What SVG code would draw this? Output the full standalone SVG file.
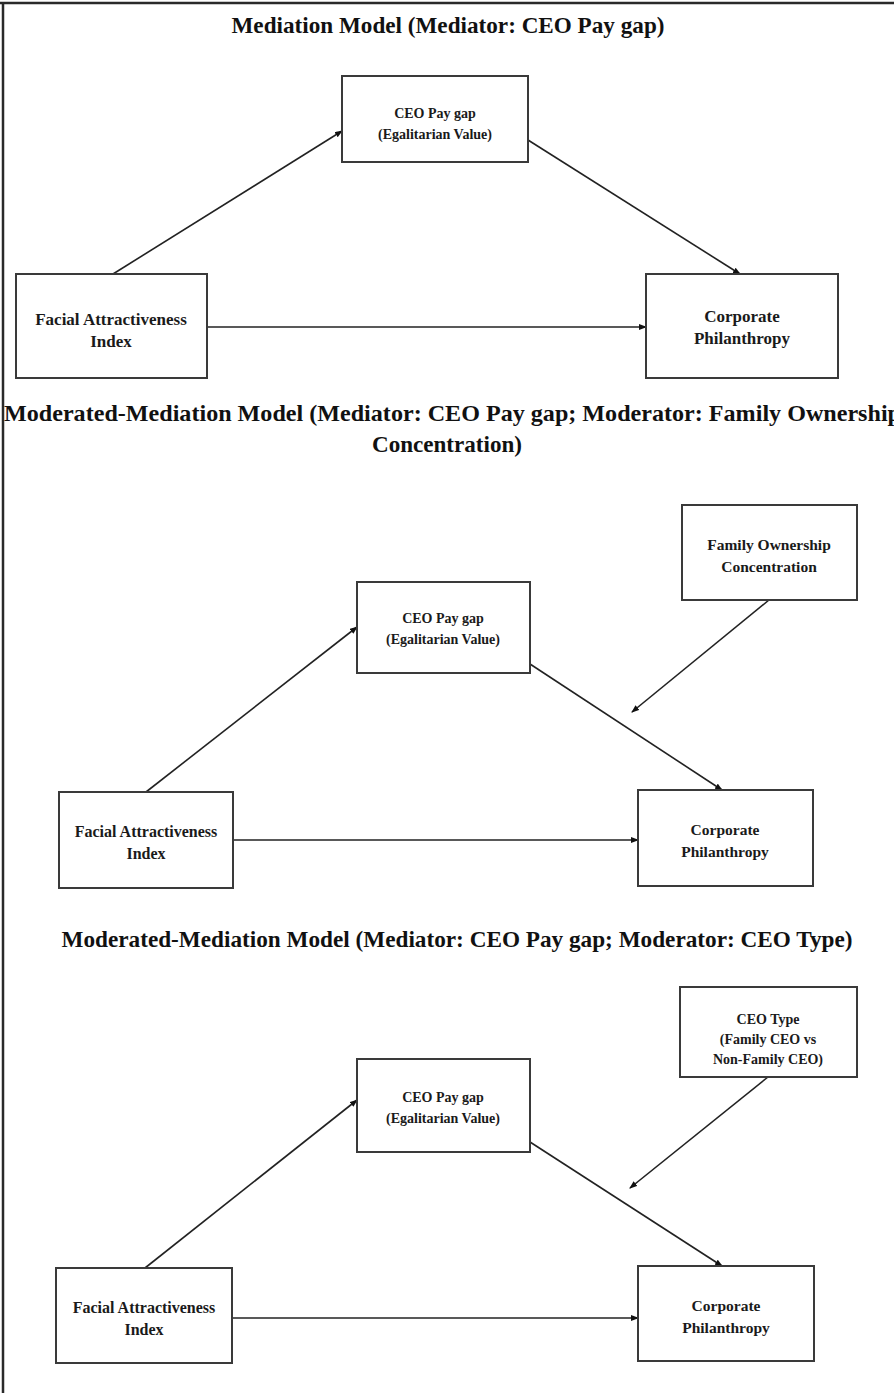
<svg xmlns="http://www.w3.org/2000/svg" width="894" height="1393" viewBox="0 0 894 1393">
<style>
.bg{fill:#ffffff}
.frame{stroke:#2a2a2a;stroke-width:2.5;fill:none}
.box{fill:#ffffff;stroke:#3a3a3a;stroke-width:2}
.title{font-family:"Liberation Serif","Times New Roman",serif;font-weight:bold;font-size:23px;fill:#111}
.lbl{font-family:"Liberation Serif","Times New Roman",serif;font-weight:bold;fill:#1a1a1a;text-anchor:middle}
.big{font-size:17px}
.mid{font-size:16px}
.sm{font-size:14px}
.conn{stroke:#222;stroke-width:1.6;fill:none;marker-end:url(#ah)}
</style>
<defs>
<marker id="ah" markerWidth="8" markerHeight="6" refX="7" refY="3" orient="auto" markerUnits="userSpaceOnUse">
<path d="M0,0 L8,3 L0,6 Z" fill="#111"/>
</marker>
</defs>
<rect class="bg" x="0" y="0" width="894" height="1393"/>
<g id="frame">
<line class="frame" x1="0" y1="3" x2="894" y2="3"/>
<line class="frame" x1="3" y1="2" x2="3" y2="1393"/>
</g>

<g id="titles">
<text class="title" x="448" y="33" text-anchor="middle" textLength="433" lengthAdjust="spacingAndGlyphs">Mediation Model (Mediator: CEO Pay gap)</text>
<text class="title" x="4" y="421" textLength="897" lengthAdjust="spacingAndGlyphs">Moderated-Mediation Model (Mediator: CEO Pay gap; Moderator: Family Ownership</text>
<text class="title" x="447" y="452" text-anchor="middle" textLength="150" lengthAdjust="spacingAndGlyphs">Concentration)</text>
<text class="title" x="457" y="947" text-anchor="middle" textLength="791" lengthAdjust="spacingAndGlyphs">Moderated-Mediation Model (Mediator: CEO Pay gap; Moderator: CEO Type)</text>
</g>

<g id="connectors">
<line class="conn" x1="113" y1="274" x2="342" y2="131"/>
<line class="conn" x1="528" y1="140" x2="740" y2="274"/>
<line class="conn" x1="207" y1="327" x2="646" y2="327"/>

<line class="conn" x1="146" y1="792" x2="357" y2="627"/>
<line class="conn" x1="530" y1="664" x2="722" y2="790"/>
<line class="conn" x1="769" y1="600" x2="632" y2="712"/>
<line class="conn" x1="233" y1="840" x2="638" y2="840"/>

<line class="conn" x1="145" y1="1268" x2="357" y2="1100"/>
<line class="conn" x1="530" y1="1142" x2="722" y2="1266"/>
<line class="conn" x1="768" y1="1077" x2="630" y2="1188"/>
<line class="conn" x1="232" y1="1318" x2="638" y2="1318"/>
</g>

<g id="s1-ceo">
<rect class="box" x="342" y="76" width="186" height="86"/>
<text class="lbl sm" x="435" y="118">CEO Pay gap</text>
<text class="lbl sm" x="435" y="139">(Egalitarian Value)</text>
</g>
<g id="s1-facial">
<rect class="box" x="16" y="274" width="191" height="104"/>
<text class="lbl big" x="111" y="325">Facial Attractiveness</text>
<text class="lbl big" x="111" y="347">Index</text>
</g>
<g id="s1-corp">
<rect class="box" x="646" y="274" width="192" height="104"/>
<text class="lbl big" x="742" y="322">Corporate</text>
<text class="lbl big" x="742" y="344">Philanthropy</text>
</g>

<g id="s2-family">
<rect class="box" x="682" y="505" width="175" height="95"/>
<text class="lbl" font-size="15.5" x="769" y="550">Family Ownership</text>
<text class="lbl" font-size="15.5" x="769" y="572">Concentration</text>
</g>
<g id="s2-ceo">
<rect class="box" x="357" y="582" width="173" height="91"/>
<text class="lbl sm" x="443" y="623">CEO Pay gap</text>
<text class="lbl sm" x="443" y="644">(Egalitarian Value)</text>
</g>
<g id="s2-facial">
<rect class="box" x="59" y="792" width="174" height="96"/>
<text class="lbl mid" x="146" y="837">Facial Attractiveness</text>
<text class="lbl mid" x="146" y="859">Index</text>
</g>
<g id="s2-corp">
<rect class="box" x="638" y="790" width="175" height="96"/>
<text class="lbl" font-size="15.5" x="725" y="835">Corporate</text>
<text class="lbl" font-size="15.5" x="725" y="857">Philanthropy</text>
</g>

<g id="s3-ceotype">
<rect class="box" x="680" y="987" width="177" height="90"/>
<text class="lbl sm" x="768" y="1024">CEO Type</text>
<text class="lbl sm" x="768" y="1044">(Family CEO vs</text>
<text class="lbl sm" x="768" y="1064">Non-Family CEO)</text>
</g>
<g id="s3-ceo">
<rect class="box" x="357" y="1059" width="173" height="93"/>
<text class="lbl sm" x="443" y="1102">CEO Pay gap</text>
<text class="lbl sm" x="443" y="1123">(Egalitarian Value)</text>
</g>
<g id="s3-facial">
<rect class="box" x="56" y="1268" width="176" height="95"/>
<text class="lbl mid" x="144" y="1313">Facial Attractiveness</text>
<text class="lbl mid" x="144" y="1335">Index</text>
</g>
<g id="s3-corp">
<rect class="box" x="638" y="1266" width="176" height="95"/>
<text class="lbl" font-size="15.5" x="726" y="1311">Corporate</text>
<text class="lbl" font-size="15.5" x="726" y="1333">Philanthropy</text>
</g>
</svg>
